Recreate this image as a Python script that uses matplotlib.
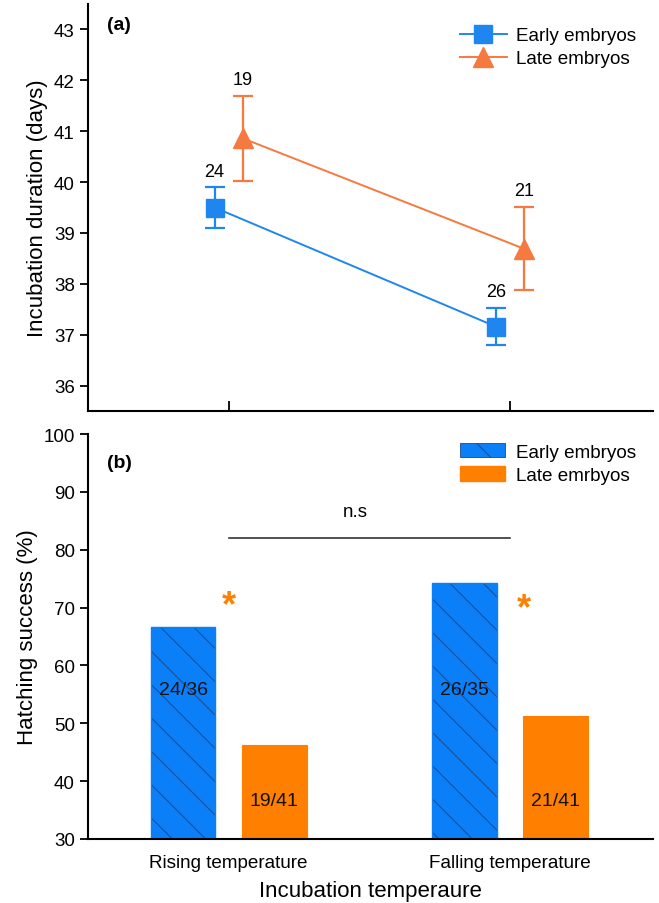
import numpy as np
import matplotlib
matplotlib.use("Agg")
import matplotlib.pyplot as plt
from matplotlib.patches import Patch
from matplotlib.lines import Line2D

plt.rcParams['font.family'] = ['Liberation Sans', 'DejaVu Sans']
plt.rcParams['hatch.linewidth'] = 0.7

# data
categories = ['Rising temperature', 'Falling temperature']
early_dur = [39.5, 37.16]
early_err = [0.4, 0.37]
late_dur = [40.86, 38.69]
late_err = [0.84, 0.82]
early_n = ['24', '26']
late_n = ['19', '21']

early_hatch = [66.7, 74.3]
late_hatch = [46.3, 51.2]
early_frac = ['24/36', '26/35']
late_frac = ['19/41', '21/41']

blue_line = '#1f86f0'
orange_line = '#f6793f'
blue_bar = '#0a7ff7'
hatch_col = '#1b4a8c'
orange_bar = '#ff8000'
hatch = '\\'

x = np.arange(len(categories))

fig = plt.figure(figsize=(6.59, 9.04), dpi=100)
ax1 = fig.add_axes([0.1335, 0.5442, 0.858, 0.4503])
ax2 = fig.add_axes([0.1335, 0.0708, 0.858, 0.448])

# ---- panel (a)
off = 0.05
ax1.errorbar(x - off, early_dur, yerr=early_err, color=blue_line, marker='s', ms=12.5,
             lw=1.4, capsize=7.5, capthick=1.6, elinewidth=1.6)
ax1.errorbar(x + off, late_dur, yerr=late_err, color=orange_line, marker='^', ms=15,
             lw=1.4, capsize=7.5, capthick=1.6, elinewidth=1.6)
for i in range(len(x)):
    ax1.text(x[i] - off, early_dur[i] + early_err[i] + 0.15, early_n[i], ha='center', va='bottom', fontsize=13)
    ax1.text(x[i] + off, late_dur[i] + late_err[i] + 0.15, late_n[i], ha='center', va='bottom', fontsize=13)

ax1.set_xlim(-0.5, 1.51)
ax1.set_ylim(35.5, 43.5)
ax1.set_yticks(range(36, 44))
ax1.set_xticks(x)
ax1.set_xticklabels([])
ax1.tick_params(axis='x', direction='in', length=7, width=1.3)
ax1.tick_params(axis='y', direction='out', length=6, width=1.3, labelsize=13.5)
ax1.set_ylabel('Incubation duration (days)', fontsize=16)
for s in ['top', 'right']:
    ax1.spines[s].set_visible(False)
for s in ['left', 'bottom']:
    ax1.spines[s].set_linewidth(1.5)
ax1.text(0.033, 0.95, '(a)', transform=ax1.transAxes, fontsize=14, fontweight='bold', va='center')
h1 = [Line2D([], [], color=blue_line, marker='s', ms=12.5, lw=1.4),
      Line2D([], [], color=orange_line, marker='^', ms=15, lw=1.4)]
ax1.legend(h1, ['Early embryos', 'Late embryos'], loc='upper right', bbox_to_anchor=(1.0, 0.985),
           frameon=False, fontsize=13.6, handlelength=2.5, labelspacing=0.3, handletextpad=0.5)

# ---- panel (b)
bw = 0.23
bo = 0.162
ax2.bar(x - bo, early_hatch, width=bw, color=blue_bar, edgecolor=hatch_col,
        hatch=hatch, linewidth=0)
ax2.bar(x - bo, early_hatch, width=bw, fill=False, edgecolor=blue_bar, linewidth=1.0)
ax2.bar(x + bo, late_hatch, width=bw, color=orange_bar, edgecolor=orange_bar, linewidth=0.8)
for i in range(len(x)):
    ax2.text(x[i] - bo, 55.8, early_frac[i], ha='center', va='center', fontsize=14, color='#111111')
    ax2.text(x[i] + bo, 36.7, late_frac[i], ha='center', va='center', fontsize=14, color='#111111')

ax2.text(0.0, 70.3, '*', ha='center', va='center', fontsize=26, color=orange_bar, fontweight='bold')
ax2.text(1.05, 69.8, '*', ha='center', va='center', fontsize=26, color=orange_bar, fontweight='bold')
ax2.plot([0, 1], [82, 82], color='#222222', lw=1.1)
ax2.text(0.45, 86.6, 'n.s', ha='center', va='center', fontsize=13.5)

ax2.set_xlim(-0.5, 1.51)
ax2.set_ylim(30, 100)
ax2.set_yticks(range(30, 101, 10))
ax2.set_xticks(x)
ax2.set_xticklabels(categories, fontsize=13.6)
ax2.tick_params(axis='x', length=0, pad=11)
ax2.tick_params(axis='y', direction='out', length=6, width=1.3, labelsize=13.5)
ax2.set_ylabel('Hatching success (%)', fontsize=16)
ax2.set_xlabel('Incubation temperaure', fontsize=16, labelpad=6)
for s in ['top', 'right']:
    ax2.spines[s].set_visible(False)
for s in ['left', 'bottom']:
    ax2.spines[s].set_linewidth(1.5)
ax2.text(0.033, 0.93, '(b)', transform=ax2.transAxes, fontsize=14, fontweight='bold', va='center')
h2 = [Patch(facecolor=blue_bar, edgecolor=hatch_col, hatch='\\', linewidth=0.6),
      Patch(facecolor=orange_bar, edgecolor=orange_bar)]
ax2.legend(h2, ['Early embryos', 'Late emrbyos'], loc='upper right', bbox_to_anchor=(1.0, 1.02),
           frameon=False, fontsize=13.6, handlelength=2.4, handleheight=0.8, labelspacing=0.3, handletextpad=0.6)

fig.savefig('out.png', dpi=100)
